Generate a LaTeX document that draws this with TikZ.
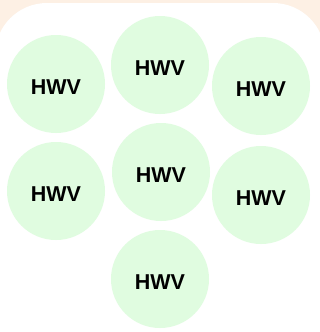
\documentclass[tikz,border=0pt]{standalone}
\usepackage{fontspec}
\setmainfont{Liberation Sans}
\definecolor{peach}{HTML}{FDF0E4}
\definecolor{mint}{HTML}{E0FCE0}
\begin{document}
\begin{tikzpicture}[x=1pt,y=-1pt,
  hw/.style={circle,fill=mint,minimum size=98pt,inner sep=0pt,
    label={[font=\fontsize{21.5}{23}\selectfont\bfseries,text=black,yshift=-3pt]center:HWV}}]
\fill[peach] (0,0) rectangle (320,332);
\useasboundingbox (0,0) rectangle (320,332);
\fill[white,rounded corners=52pt] (-5,3) rectangle (325,420);
\node[hw] (a) at (56,84) {};
\node[hw] (b) at (160,65) {};
\node[hw] (c) at (261,86) {};
\node[hw] (d) at (56,191) {};
\node[hw] (e) at (161,172) {};
\node[hw] (f) at (261,195) {};
\node[hw] (g) at (160,279) {};
\end{tikzpicture}
\end{document}
